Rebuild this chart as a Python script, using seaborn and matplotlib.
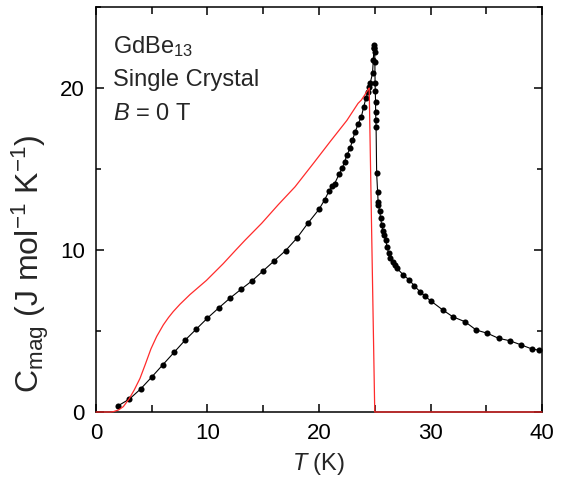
import matplotlib
matplotlib.use("Agg")
import matplotlib.pyplot as plt
from matplotlib.ticker import MultipleLocator
import seaborn as sns
import pandas as pd

# Measured magnetic specific heat (symbols)
T_exp = [2.0, 3.0, 4.0, 5.0, 6.0, 7.0, 8.0, 9.0, 10.0, 11.0, 12.0, 13.0, 14.0,
         15.0, 16.0, 17.0, 18.0, 19.0, 20.0, 20.5, 20.9, 21.2, 21.4, 21.8, 22.1,
         22.3, 22.5, 22.8, 23.0, 23.25, 23.5, 23.8, 24.0, 24.2, 24.4, 24.5, 24.6,
         24.8, 24.87, 24.93, 24.95, 24.97,
         25.0, 25.01, 25.03, 25.05, 25.07, 25.08, 25.1, 25.12, 25.17, 25.26, 25.3,
         25.33, 25.44, 25.53, 25.62, 25.74, 25.83, 25.98, 26.1, 26.25, 26.4, 26.6,
         26.8, 27.0, 27.56, 28.1, 28.55, 29.06, 29.5, 30.0, 31.1, 32.0, 33.1, 34.1,
         35.1, 36.1, 37.1, 38.1, 39.1, 39.7]
C_exp = [0.39, 0.80, 1.42, 2.16, 2.92, 3.68, 4.44, 5.12, 5.80, 6.42, 7.02, 7.57, 8.10,
         8.72, 9.34, 9.96, 10.72, 11.65, 12.51, 13.09, 13.64, 13.95, 14.10, 14.67, 15.08,
         15.45, 15.86, 16.28, 16.79, 17.30, 17.76, 18.23, 18.81, 19.36, 19.77, 20.04, 20.33,
         20.90, 21.73, 22.45, 22.65, 22.5,
         22.2, 21.6, 20.3, 19.8, 19.15, 18.5, 18.0, 17.6, 14.73, 13.56, 12.98,
         12.8, 12.4, 11.95, 11.54, 11.19, 10.93, 10.62, 10.2, 9.8, 9.49, 9.28,
         9.07, 8.87, 8.46, 8.15, 7.78, 7.43, 7.16, 6.87, 6.30, 5.88, 5.57, 5.06,
         4.86, 4.55, 4.40, 4.15, 3.89, 3.82]

# Calculated curve (red line)
T_calc = [0.0, 1.3, 1.55, 2.0, 2.45, 2.96, 3.43, 3.95, 4.4, 4.93, 5.44, 6.04, 6.5,
          6.93, 7.53, 8.43, 9.9, 11.4, 12.5, 13.36, 14.86, 16.35, 17.85, 19.5, 21.0,
          22.5, 23.5, 23.8, 24.1, 24.4, 24.5, 24.75, 25.0, 40.0]
C_calc = [0.0, 0.0, 0.02, 0.12, 0.33, 0.80, 1.36, 2.08, 2.90, 3.90, 4.66, 5.38, 5.83,
          6.20, 6.65, 7.25, 8.12, 9.15, 9.97, 10.6, 11.65, 12.8, 13.9, 15.35, 16.69,
          18.0, 19.05, 19.26, 19.57, 19.9, 20.0, 10.0, 0.0, 0.0]

sns.set_style("ticks")
plt.rcParams["font.family"] = ["Liberation Sans", "DejaVu Sans"]
plt.rcParams["mathtext.fontset"] = "custom"
plt.rcParams["mathtext.rm"] = "Liberation Sans"
plt.rcParams["mathtext.it"] = "Liberation Sans:italic"
plt.rcParams["mathtext.default"] = "regular"

fig = plt.figure(figsize=(5.7, 4.83), dpi=100)
ax = fig.add_axes([0.1684, 0.147, 0.7825, 0.8385])

calc = pd.DataFrame({"T": T_calc, "C": C_calc})
exp = pd.DataFrame({"T": T_exp, "C": C_exp})

sns.lineplot(data=calc, x="T", y="C", ax=ax, color="#ff2b2b", lw=0.9,
             estimator=None, sort=False, zorder=4, clip_on=False)
sns.lineplot(data=exp, x="T", y="C", ax=ax, color="black", lw=0.8,
             marker="o", markersize=4.4, markeredgewidth=0,
             estimator=None, sort=False, zorder=3)

ax.set_xlim(0, 40)
ax.set_ylim(0, 25)
ax.xaxis.set_major_locator(MultipleLocator(10))
ax.xaxis.set_minor_locator(MultipleLocator(5))
ax.yaxis.set_major_locator(MultipleLocator(10))
ax.yaxis.set_minor_locator(MultipleLocator(5))
ax.tick_params(which="both", direction="in", top=True, right=True,
               width=1.1, labelsize=16, colors="black")
ax.tick_params(which="major", length=5.8, pad=8)
ax.tick_params(axis="x", which="minor", length=5.2)
ax.tick_params(axis="y", which="minor", length=3.6)
for sp in ax.spines.values():
    sp.set_linewidth(1.1)
    sp.set_color("black")
    sp.set_visible(True)

ax.set_xlabel("$\\mathit{T}$ (K)", fontsize=17, labelpad=5)
ax.set_ylabel("C$_{\\mathrm{mag}}$ (J mol$^{-1}$ K$^{-1}$)", fontsize=23)
ax.yaxis.set_label_coords(-0.1, 0.365)

ax.text(0.038, 0.886, "GdBe$_{13}$", transform=ax.transAxes, fontsize=17)
ax.text(0.038, 0.805, "Single Crystal", transform=ax.transAxes, fontsize=17)
ax.text(0.038, 0.721, "$\\mathit{B}$ = 0 T", transform=ax.transAxes, fontsize=17)

fig.savefig("out.png", dpi=100)
